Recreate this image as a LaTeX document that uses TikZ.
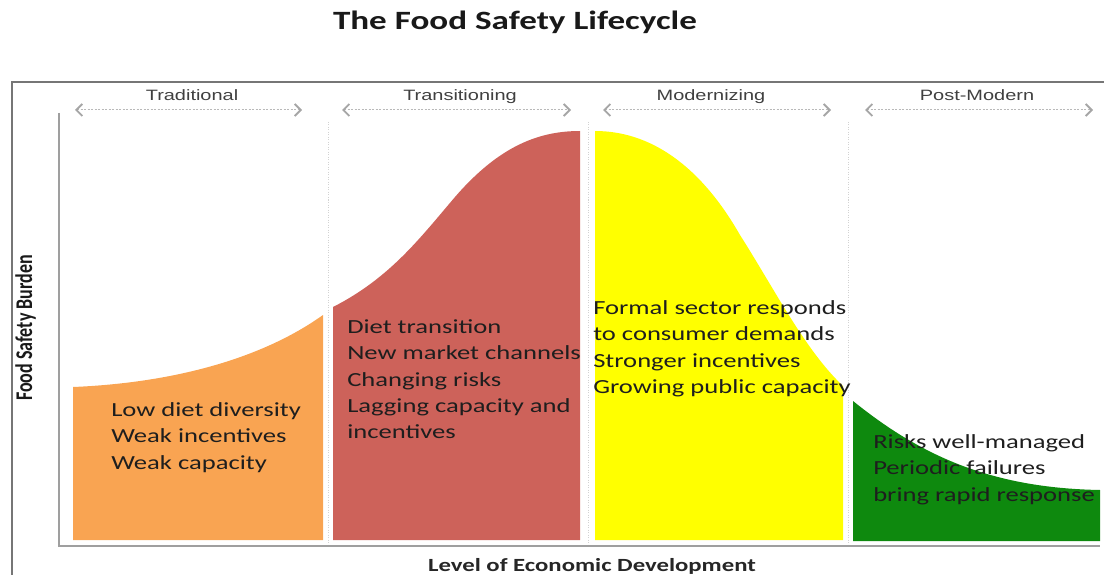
\documentclass[tikz,border=0pt]{standalone}
\usepackage{fontspec}
\setmainfont{Carlito}
\newfontfamily\arialfont{Liberation Sans}
\usetikzlibrary{arrows.meta}

\definecolor{tradorange}{RGB}{249,164,82}
\definecolor{transred}{RGB}{205,98,90}
\definecolor{modyellow}{RGB}{255,255,0}
\definecolor{postgreen}{RGB}{14,137,14}
\definecolor{framegray}{RGB}{118,118,118}
\definecolor{inktext}{RGB}{30,30,30}

\begin{document}
\begin{tikzpicture}[x=1pt, y=-1pt,
    wide/.style={xscale=1.33, inner sep=0pt},
    stage/.style={wide, anchor=base, font=\arialfont\fontsize{15}{18}\selectfont, text=black!75},
    span/.style={draw=gray!55, line width=1pt, dash pattern=on 2pt off 1.5pt,
        {Straight Barb[length=6pt,width=12pt,line width=1.8pt,gray!70]}-{Straight Barb[length=6pt,width=12pt,line width=1.8pt,gray!70]}},
    divider/.style={draw=gray!35, line width=1pt, dash pattern=on 1pt off 1.5pt},
    axis/.style={draw=gray!75, line width=2.5pt},
    story/.style={wide, anchor=base west, align=left, font=\fontsize{20}{26.3}\selectfont, text=inktext}]
    \useasboundingbox (0,0) rectangle (1104,575);
    % Title and frame
    \node[wide, anchor=base, font=\bfseries\fontsize{26.4}{30}\selectfont, text=black!90] (title) at (515,30) {The Food Safety Lifecycle};
    \draw[framegray, line width=2.5pt] (12,590) |- (1115,82);
    % Stage areas
    \fill[tradorange] (73,540) -- (73,387) .. controls (170,383) and (260,360) .. (323,315) -- (323,540) -- cycle;
    \fill[transred] (333,540) -- (333,307) .. controls (390,278) and (420,238) .. (455,197) .. controls (500,145) and (540,131) .. (580,131) -- (580,540) -- cycle;
    \fill[modyellow] (595,540) -- (595,131) .. controls (650,131) and (700,165) .. (740,235) .. controls (775,290) and (805,350) .. (843,386) -- (843,540) -- cycle;
    \fill[postgreen] (853,541) -- (853,401) .. controls (920,455) and (990,488) .. (1100,490) -- (1100,541) -- cycle;
    % Dividers
    \draw[divider] (328,122) -- (328,546);
    \draw[divider] (588,122) -- (588,546);
    \draw[divider] (848,122) -- (848,546);
    % Axes
    \draw[axis] (59,113) |- (1100,546);
    \node[wide, rotate=90, anchor=base, font=\bfseries\fontsize{18}{20}\selectfont, text=black!90] (burden) at (32,328) {Food Safety Burden};
    \node[wide, anchor=base, font=\bfseries\fontsize{18.6}{20}\selectfont, text=black!85] (develop) at (592,571) {Level of Economic Development};
    % Stage names
    \node[stage] (trad) at (192,100.5) {Traditional};
    \node[stage] (trans) at (460,100.5) {Transitioning};
    \node[stage] (modern) at (711,100.5) {Modernizing};
    \node[stage] (post) at (977,100.5) {Post-Modern};
    % Stage spans
    \coordinate (trad-l) at (75,110);
    \coordinate (trad-r) at (302,110);
    \coordinate (trans-l) at (342,110);
    \coordinate (trans-r) at (571,110);
    \coordinate (modern-l) at (603,110);
    \coordinate (modern-r) at (831,110);
    \coordinate (post-l) at (865,110);
    \coordinate (post-r) at (1093,110);
    \draw[span] (trad-l) -- (trad-r);
    \draw[span] (trans-l) -- (trans-r);
    \draw[span] (modern-l) -- (modern-r);
    \draw[span] (post-l) -- (post-r);
    % Stage descriptions (base = last line)
    \node[story] (tradtext) at (111,469.1) {Low diet diversity\\Weak incentives\\Weak capacity};
    \node[story] (transtext) at (347,438.7) {Diet transition\\New market channels\\Changing risks\\Lagging capacity and\\incentives};
    \node[story] (moderntext) at (593,393.4) {Formal sector responds\\to consumer demands\\Stronger incentives\\Growing public capacity};
    \node[story] (posttext) at (873,501.1) {Risks well-managed\\Periodic failures\\bring rapid response};
\end{tikzpicture}
\end{document}
